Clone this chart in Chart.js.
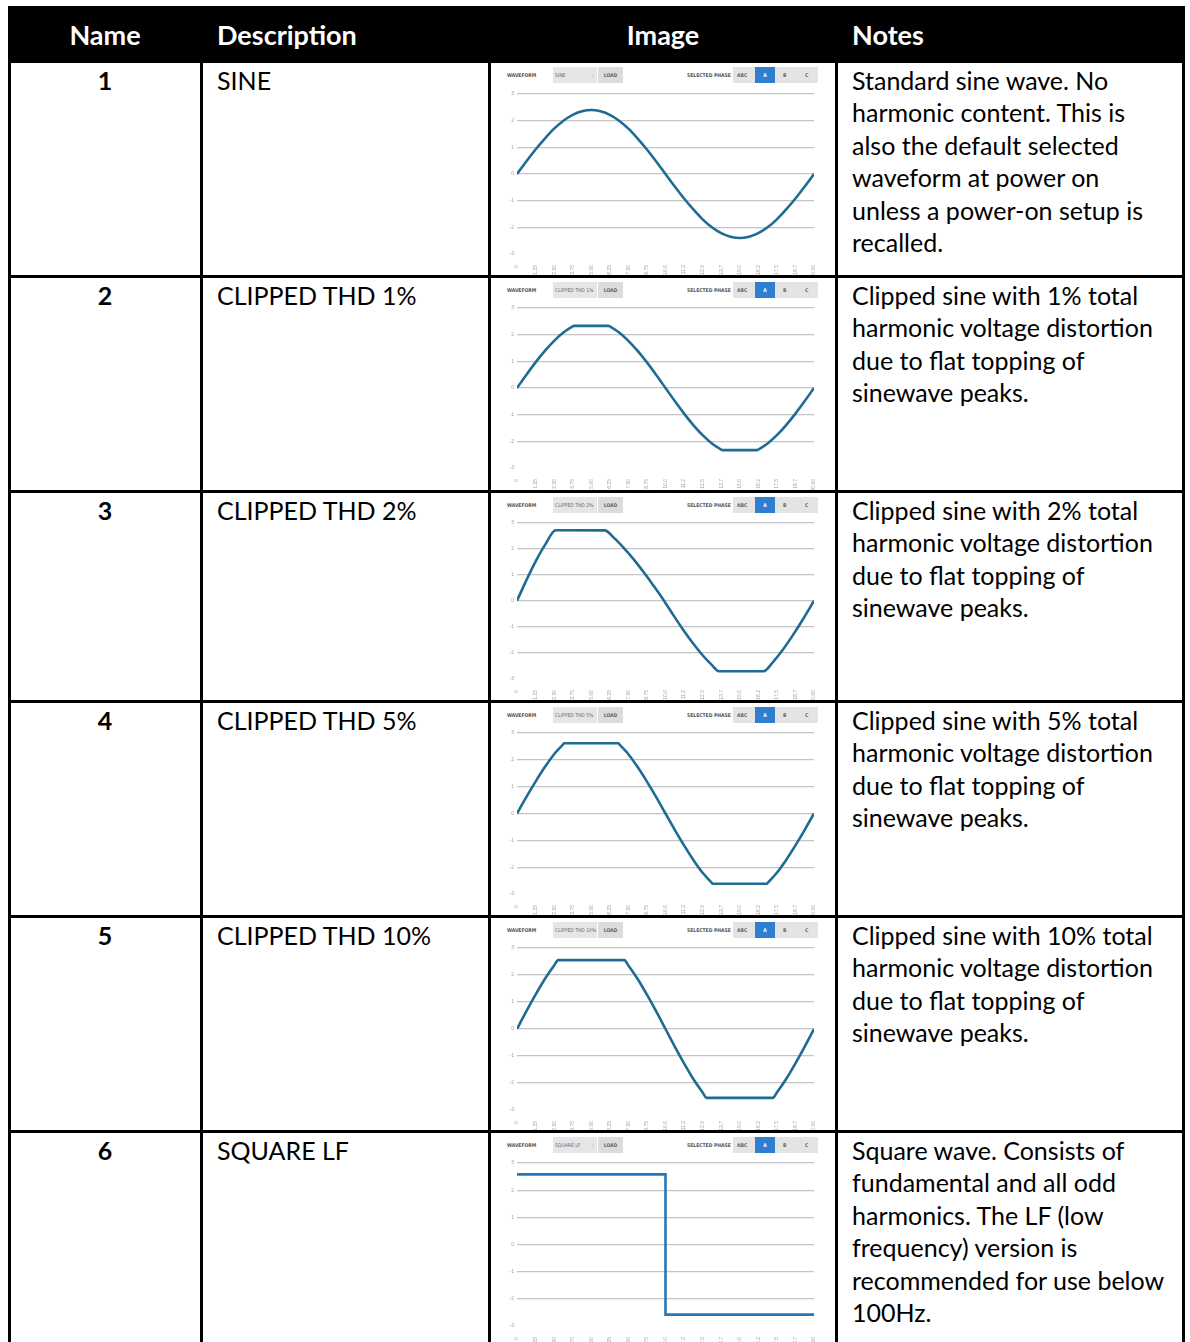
<!DOCTYPE html>
<html><head><meta charset="utf-8">
<script src="https://cdn.jsdelivr.net/npm/chart.js@4.4.1/dist/chart.umd.min.js"></script>
<style>
html,body{margin:0;padding:0;background:#fff;width:1190px;height:1342px;overflow:hidden;}
#page{position:relative;width:1190px;height:1342px;font-family:Lato,"Open Sans",sans-serif;}
.blk{position:absolute;background:#000;}
.hd{position:absolute;color:#fff;font-weight:bold;font-size:27px;line-height:30px;top:20px;}
.num{position:absolute;font-weight:bold;font-size:25px;line-height:32.4px;width:190px;left:10px;text-align:center;color:#000;}
.desc{position:absolute;font-size:25px;line-height:32.4px;left:217px;color:#000;white-space:nowrap;}
.note{position:absolute;font-size:25px;line-height:32.4px;left:852px;color:#000;white-space:nowrap;}
.tb{position:absolute;left:491px;width:332px;height:22px;font-family:"Liberation Sans Narrow","DejaVu Sans Condensed",sans-serif;font-size:5px;color:#666;}
.tb div{position:absolute;line-height:16px;height:16px;top:4px;white-space:nowrap;}
canvas{position:absolute;left:491px;}
</style></head>
<body><div id="page"></div>
<script>
// ---------- table content ----------
const rowNames = ['1','2','3','4','5','6'];
const rowDescriptions = ['SINE','CLIPPED THD 1%','CLIPPED THD 2%','CLIPPED THD 5%','CLIPPED THD 10%','SQUARE LF'];
const rowNotes = [
 ['Standard sine wave. No','harmonic content. This is','also the default selected','waveform at power on','unless a power-on setup is','recalled.'],
 ['Clipped sine with 1% total','harmonic voltage distortion','due to flat topping of','sinewave peaks.'],
 ['Clipped sine with 2% total','harmonic voltage distortion','due to flat topping of','sinewave peaks.'],
 ['Clipped sine with 5% total','harmonic voltage distortion','due to flat topping of','sinewave peaks.'],
 ['Clipped sine with 10% total','harmonic voltage distortion','due to flat topping of','sinewave peaks.'],
 ['Square wave. Consists of','fundamental and all odd','harmonics. The LF (low','frequency) version is','recommended for use below','100Hz.']
];
const headerLabels = ['Name','Description','Image','Notes'];

// ---------- chart data (time in ms, amplitude in grid units) ----------
const xTickValues = [0,1.25,2.5,3.75,5,6.25,7.5,8.75,10,11.25,12.5,13.75,15,16.25,17.5,18.75,20];
const xTickLabels = ['0','1.25','2.50','3.75','5.00','6.25','7.50','8.75','10.0','11.2','12.5','13.7','15.0','16.2','17.5','18.7','20.00'];
const yTickValues = [-3,-2,-1,0,1,2,3];
const yTickLabels = ['-3','-2','-1','0','1','2','3'];

const sineX = [0,0.625,1.25,1.875,2.5,3.125,3.75,4.375,5,5.625,6.25,6.875,7.5,8.125,8.75,9.375,10,10.625,11.25,11.875,12.5,13.125,13.75,14.375,15,15.625,16.25,16.875,17.5,18.125,18.75,19.375,20];
const sineV = [0,0.47,0.92,1.33,1.70,2.00,2.22,2.35,2.40,2.35,2.22,2.00,1.70,1.33,0.92,0.47,0,-0.47,-0.92,-1.33,-1.70,-2.00,-2.22,-2.35,-2.40,-2.35,-2.22,-2.00,-1.70,-1.33,-0.92,-0.47,0];

const clip1X = [0,0.625,1.25,1.875,2.5,3.125,3.75,3.82,6.18,6.25,6.875,7.5,8.125,8.75,9.375,10,10.625,11.25,11.875,12.5,13.125,13.75,13.82,16.18,16.25,16.875,17.5,18.125,18.75,19.375,20];
const clip1V = [0,0.49,0.96,1.39,1.77,2.08,2.31,2.33,2.33,2.31,2.08,1.77,1.39,0.96,0.49,0,-0.49,-0.96,-1.39,-1.77,-2.08,-2.31,-2.33,-2.33,-2.31,-2.08,-1.77,-1.39,-0.96,-0.49,0];

const clip2X = [0,0.65,1.3,1.95,2.6,5.9,6.55,7.2,7.9,8.55,9.2,9.9,10.55,11.2,11.85,12.5,13.1,13.6,16.6,17.25,17.9,18.6,19.3,20];
const clip2V = [0,0.81,1.56,2.20,2.70,2.70,2.40,2.02,1.56,1.08,0.57,0,-0.57,-1.12,-1.63,-2.09,-2.45,-2.70,-2.70,-2.34,-1.88,-1.30,-0.67,0];

const clip5X = [0,0.625,1.25,1.875,2.5,3.125,3.167,6.833,6.875,7.5,8.125,8.75,9.375,10,10.625,11.25,11.875,12.5,13.125,13.167,16.833,16.875,17.5,18.125,18.75,19.375,20];
const clip5V = [0,0.61,1.19,1.73,2.21,2.59,2.62,2.62,2.59,2.21,1.73,1.19,0.61,0,-0.61,-1.19,-1.73,-2.21,-2.59,-2.62,-2.62,-2.59,-2.21,-1.73,-1.19,-0.61,0];

const clip10X = [0,0.625,1.25,1.875,2.5,2.778,7.222,7.5,8.125,8.75,9.375,10,10.625,11.25,11.875,12.5,12.778,17.222,17.5,18.125,18.75,19.375,20];
const clip10V = [0,0.65,1.27,1.85,2.35,2.55,2.55,2.35,1.85,1.27,0.65,0,-0.65,-1.27,-1.85,-2.35,-2.55,-2.55,-2.35,-1.85,-1.27,-0.65,0];

const squareX = [0,10,10,20];
const squareV = [2.58,2.58,-2.58,-2.58];

const waveX = [sineX,clip1X,clip2X,clip5X,clip10X,squareX];
const waveV = [sineV,clip1V,clip2V,clip5V,clip10V,squareV];
const waveStepped = [false,false,false,false,false,true];

// ---------- layout ----------
const rowTops = [63,278,493,703,918,1133];
const rowBottoms = [275,490,700,915,1130,1342];
const gridTopOff = [31,30,29.5,30,30,30];
const gridBotOff = [191,190,186,191,192,193];
const hLines = [275,490,700,915,1130];
const vLines = [8,200,488,835,1182];

const page = document.getElementById('page');
function add(cls, style, text){
  const d=document.createElement('div'); d.className=cls; Object.assign(d.style,style);
  if(text!==undefined) d.innerHTML=text; page.appendChild(d); return d;
}
// header
add('blk',{left:'8px',top:'6px',width:'1177px',height:'57px'});
add('hd',{left:'10px',width:'190px',textAlign:'center'},headerLabels[0]);
add('hd',{left:'217px'},headerLabels[1]);
add('hd',{left:'491px',width:'344px',textAlign:'center'},headerLabels[2]);
add('hd',{left:'852px'},headerLabels[3]);
// grid lines
vLines.forEach(x=>add('blk',{left:x+'px',top:'60px',width:'3px',height:'1290px'}));
hLines.forEach(y=>add('blk',{left:'8px',top:y+'px',width:'1177px',height:'3px'}));

rowNames.forEach((n,i)=>{
  const t=rowTops[i];
  add('num',{top:(t+1)+'px'},n);
  add('desc',{top:(t+1)+'px'},rowDescriptions[i]);
  add('note',{top:(t+1)+'px'},rowNotes[i].join('<br>'));
  // toolbar
  const tb=add('tb',{top:t+'px'});
  tb.innerHTML =
   '<div style="left:16px;font-weight:bold;color:#555">WAVEFORM</div>'+
   '<div style="left:62px;width:44px;background:#e6e6e6;padding-left:2px;box-sizing:border-box">'+rowDescriptions[i]+'</div>'+
   '<div style="left:101px;color:#888">›</div>'+
   '<div style="left:107px;width:25px;background:#dcdcdc;text-align:center;font-weight:bold">LOAD</div>'+
   '<div style="left:196px;font-weight:bold;color:#555">SELECTED PHASE</div>'+
   '<div style="left:242px;width:85px;background:#e4e4e4"></div>'+
   '<div style="left:246px;font-weight:bold">ABC</div>'+
   '<div style="left:264px;width:20px;background:#2f7fd0;color:#fff;text-align:center;font-weight:bold">A</div>'+
   '<div style="left:292px;font-weight:bold">B</div>'+
   '<div style="left:314px;font-weight:bold">C</div>';
  // chart
  const cv=document.createElement('canvas');
  const cTop=t+20, cH=rowBottoms[i]-t-20;
  cv.width=332; cv.height=cH; cv.style.top=cTop+'px'; cv.style.width='332px'; cv.style.height=cH+'px';
  page.appendChild(cv);
  const padTop=gridTopOff[i]-20;
  const xH=cH-(gridBotOff[i]-20);
  const pts=waveX[i].map((x,k)=>({x:x,y:waveV[i][k]}));
  new Chart(cv.getContext('2d'),{
    type:'line',
    data:{datasets:[{data:pts,borderColor:waveStepped[i]?'#2777b8':'#1f6b94',borderWidth:2.6,fill:false,pointRadius:0,
      tension:0,cubicInterpolationMode:waveStepped[i]?'default':'monotone'}]},
    options:{
      responsive:false,animation:false,events:[],
      layout:{padding:{top:padTop,right:5,left:0,bottom:0}},
      plugins:{legend:{display:false},tooltip:{enabled:false}},
      scales:{
        x:{type:'linear',min:0,max:20,
          afterBuildTicks:s=>{s.ticks=xTickValues.map(v=>({value:v}));},
          ticks:{autoSkip:false,minRotation:90,maxRotation:90,padding:3,color:'#a0a0a0',font:{size:5,family:'Liberation Sans'},
            callback:(v,k)=>xTickLabels[k]},
          grid:{display:false},border:{display:false},
          afterFit:s=>{s.height=xH;}
        },
        y:{min:-3,max:3,
          afterBuildTicks:s=>{s.ticks=yTickValues.map(v=>({value:v}));},
          ticks:{padding:3,color:'#a0a0a0',font:{size:5,family:'Liberation Sans'},callback:(v,k)=>yTickLabels[k]},
          grid:{drawTicks:false,lineWidth:1.3,color:c=>(c.tick&&c.tick.value===-3)?'rgba(0,0,0,0)':'#c4c4c4'},
          border:{display:false},
          afterFit:s=>{s.width=26;}
        }
      }
    }
  });
});
</script></body></html>
